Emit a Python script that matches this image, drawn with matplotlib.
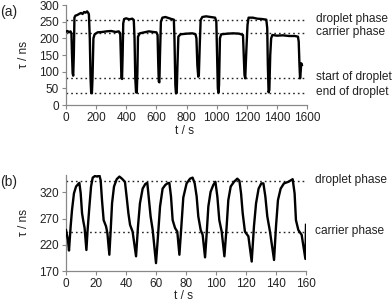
import matplotlib.pyplot as plt
import matplotlib.transforms as mtransforms

plt.rcParams['font.family'] = ['Liberation Sans', 'DejaVu Sans']
plt.rcParams['font.size'] = 8.5

# panel (a): long run, square-wave lifetime trace
t_a = [0, 10, 20, 30, 36, 40, 44, 48, 52, 56, 62, 75, 90, 100, 110, 120, 130, 140, 148,
       152, 158, 163, 167, 172, 176, 182, 190, 210, 240, 270, 300, 330, 350, 360, 364,
       368, 372, 376, 380, 386, 400, 420, 440, 450, 455, 460, 465, 470, 474, 478, 490,
       520, 550, 580, 600, 608, 612, 616, 620, 624, 630, 640, 660, 680, 700, 716, 720,
       726, 730, 735, 740, 746, 760, 800, 840, 860, 866, 872, 878, 882, 888, 894, 905,
       930, 960, 990, 998, 1003, 1008, 1012, 1016, 1022, 1030, 1070, 1110, 1150, 1175,
       1180, 1185, 1190, 1196, 1205, 1212, 1240, 1270, 1300, 1330, 1336, 1340, 1345,
       1350, 1356, 1362, 1370, 1400, 1440, 1480, 1520, 1540, 1545, 1550, 1554, 1558,
       1562, 1566]
tau_a = [220, 222, 218, 221, 215, 150, 95, 88, 150, 262, 268, 270, 274, 276, 273, 279, 277, 281, 276,
         272, 200, 80, 38, 35, 80, 200, 212, 218, 219, 221, 222, 219, 221, 215, 150,
         80, 78, 150, 245, 258, 260, 257, 259, 255, 200, 80, 38, 37, 100, 205, 215,
         218, 221, 219, 218, 210, 130, 70, 68, 150, 250, 262, 264, 261, 258, 256, 200,
         60, 35, 36, 120, 205, 212, 214, 215, 212, 200, 120, 85, 90, 180, 255, 264,
         266, 264, 262, 250, 150, 50, 37, 60, 200, 212, 214, 215, 214, 210,
         150, 90, 80, 150, 240, 262, 262, 259, 258, 256, 230, 120, 38,
         45, 150, 200, 210, 208, 209, 207, 207, 205, 190, 120, 80, 100,
         125, 120]

levels_a = [255, 215, 80, 35]
labels_a = ['droplet phase', 'carrier phase', 'start of droplet', 'end of droplet']

# panel (b): short run, faster oscillation
t_b = [0, 1.3, 2, 3.1, 4, 5.3, 6.7, 8.2, 8.9, 9.8, 10.7, 11.6, 12.4, 13.6,
       14.4, 15.6, 16.7, 17.8, 19.3, 20.9, 22.2, 23.1, 24, 25.1, 26.7, 27.6, 28.9,
       29.8, 30.7, 32, 33.8, 35.6, 37.3, 39.3, 40.4, 41.6, 42.7, 44.4, 46.7,
       48, 49.3, 51.1, 52.9, 54.2, 55.1, 56.4, 57.8, 60,
       61.3, 62.7, 64.4, 66.2, 67.6, 68.9, 70, 71.1, 72.7, 74.2, 75.6,
       76.9, 78.2, 80.4, 82.7, 84.4, 85.8, 87.1, 88.2, 89.8, 91.1, 92.7,
       93.8, 94.9, 96.4, 98.2, 99.6, 100.9, 102.2, 103.8, 105.6,
       107.1, 108.2, 109.8, 112, 114.2, 115.6, 116.7, 117.8, 119.3, 121.6, 123.8,
       125.3, 126.7, 128.4, 130.2, 131.6, 132.9, 134.2, 136, 138.7,
       140, 141.3, 143.1, 145.3, 148.2, 151.1, 152.4, 153.3, 154.9, 157.1, 159.6, 160]
tau_b = [248, 229, 209, 255, 286, 318, 331, 336, 338, 318, 280, 264, 252, 210,
         248, 293, 331, 348, 351, 350, 353, 343, 305, 267, 255, 242, 201,
         248, 299, 331, 345, 350, 346, 340, 312, 280, 258, 245, 198,
         255, 299, 327, 336, 338, 312, 274, 248, 185,
         236, 293, 327, 334, 337, 338, 312, 267, 252, 245, 201,
         255, 310, 337, 346, 348, 337, 312, 274, 248, 239, 196,
         242, 293, 321, 334, 340, 312, 267, 245, 198,
         255, 305, 331, 340, 346, 342, 318, 280, 245, 236, 188,
         255, 299, 327, 337, 337, 312, 274, 245, 191,
         255, 305, 327, 337, 340, 345, 318, 267, 248, 239, 193, 258]

levels_b = [342, 245]
labels_b = ['droplet phase', 'carrier phase']

W, H = 392, 304
fig = plt.figure(figsize=(W / 100, H / 100), dpi=100)


def add_panel(box, t, tau, levels, labels, xlim, ylim, xticks, yticks, tag):
    l, r, top, bot = box
    ax = fig.add_axes([l / W, 1 - bot / H, (r - l) / W, (bot - top) / H])
    ax.plot(t, tau, color='black', lw=1.7, solid_joinstyle='round', zorder=3)
    trans = mtransforms.blended_transform_factory(ax.transAxes, ax.transData)
    for lev, lab in zip(levels, labels):
        ax.axhline(lev, color='#222222', lw=1.0, ls=(0, (1.2, 2.2)), zorder=2)
        ax.text(1.037, lev + (ylim[1] - ylim[0]) * 0.01, lab, transform=trans,
                ha='left', va='center', fontsize=8.6, color='#222222')
    ax.set_xlim(*xlim)
    ax.set_ylim(*ylim)
    ax.set_xticks(xticks)
    ax.set_yticks(yticks)
    for s in ['top', 'right']:
        ax.spines[s].set_visible(False)
    for s in ['left', 'bottom']:
        ax.spines[s].set_color('#888888')
        ax.spines[s].set_linewidth(0.9)
    ax.tick_params(direction='out', length=3, width=0.8, color='#888888',
                   labelsize=8.5, pad=2, labelcolor='#222222')
    ax.set_xlabel('t / s', fontsize=8.6, color='#222222')
    ax.set_ylabel('τ / ns', fontsize=8.6, color='#222222')
    ax.xaxis.set_label_coords(0.49, -0.20)
    ax.yaxis.set_label_coords(-0.15, 0.5)
    ax.text(-0.275, 0.93, tag, transform=ax.transAxes, fontsize=10,
            ha='left', va='center', color='#222222')
    return ax


add_panel((66, 307, 5, 105), t_a, tau_a, levels_a, labels_a,
          (0, 1600), (0, 300), range(0, 1601, 200), range(0, 301, 50), '(a)')
add_panel((66, 306, 175, 271), t_b, tau_b, levels_b, labels_b,
          (0, 160), (170, 353), range(0, 161, 20), [170, 220, 270, 320], '(b)')

fig.savefig('out.png', dpi=100)
